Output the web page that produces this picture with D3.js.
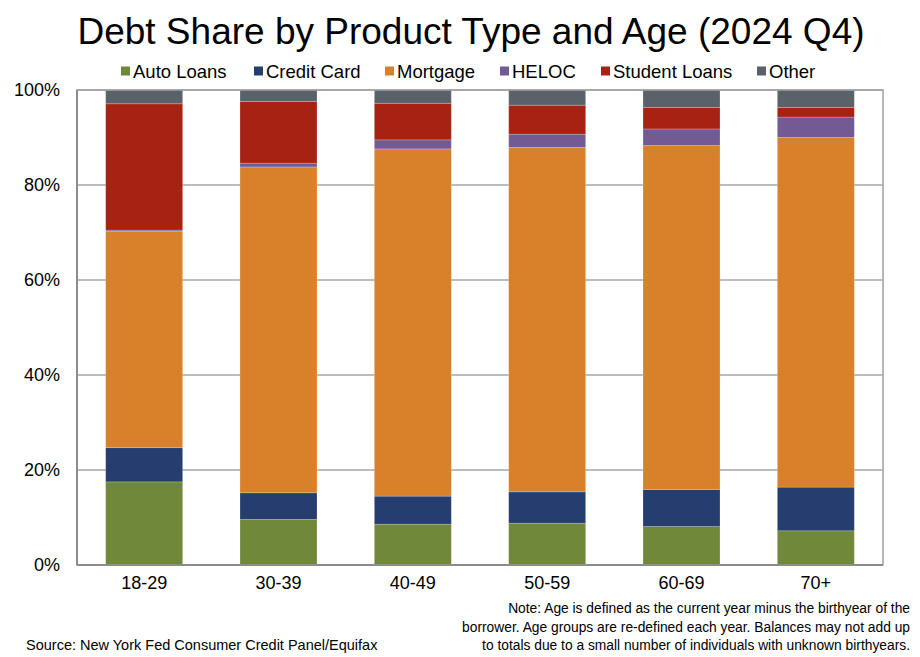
<!DOCTYPE html>
<html><head><meta charset="utf-8">
<script src="https://cdn.jsdelivr.net/npm/d3@7"></script>
<style>body{margin:0;background:#fff}svg{display:block}text{font-family:"Liberation Sans",Arial,sans-serif}</style>
</head><body><svg id="c" width="920" height="657"></svg>
<script>
const categories = ["18-29","30-39","40-49","50-59","60-69","70+"];
const seriesNames = ["Auto Loans","Credit Card","Mortgage","HELOC","Student Loans","Other"];
const autoLoans    = [17.5, 9.6, 8.6, 8.8, 8.1, 7.2];
const creditCard   = [7.2, 5.6, 5.9, 6.6, 7.8, 9.2];
const mortgage     = [45.5, 68.6, 73.1, 72.5, 72.4, 73.6];
const heloc        = [0.3, 0.8, 1.9, 2.8, 3.5, 4.3];
const studentLoans = [26.6, 13.0, 7.7, 6.1, 4.5, 2.0];
const other        = [2.9, 2.4, 2.8, 3.2, 3.7, 3.7];
const colors = ["#6F883A","#263D6F","#D8802A","#735A94","#A62314","#5B6169"];
const yTicks = [0,20,40,60,80,100];

const seriesVals = [autoLoans, creditCard, mortgage, heloc, studentLoans, other];
const rows = categories.map((c,i)=>{const r={cat:c}; seriesNames.forEach((s,j)=>r[s]=seriesVals[j][i]); return r;});

const svg = d3.select("#c");
const L=77, R=883, T=90, B=565;
const x = d3.scaleBand().domain(categories).range([L,R]).paddingInner(0.427).paddingOuter(0.2135);
const y = d3.scaleLinear().domain([0,100]).range([B,T]);

svg.append("text").attr("x",471).attr("y",44).attr("text-anchor","middle")
  .style("font-size","37px").text("Debt Share by Product Type and Age (2024 Q4)");

// gridlines
svg.append("g").selectAll("line").data(yTicks).join("line")
  .attr("x1",L).attr("x2",R).attr("y1",d=>y(d)).attr("y2",d=>y(d))
  .attr("stroke","#a6a6a6").attr("stroke-width",1.5);

const stack = d3.stack().keys(seriesNames)(rows);
svg.append("g").selectAll("g").data(stack).join("g")
  .attr("fill",(d,i)=>colors[i])
  .selectAll("rect").data(d=>d).join("rect")
  .attr("x",d=>x(d.data.cat)).attr("width",x.bandwidth())
  .attr("y",d=>y(d[1])).attr("height",d=>y(d[0])-y(d[1]))
  .attr("stroke","rgba(255,255,255,0.25)").attr("stroke-width",0.8);

// frame
svg.append("rect").attr("x",L).attr("y",T).attr("width",R-L).attr("height",B-T)
  .attr("fill","none").attr("stroke","#a0a0a0").attr("stroke-width",1.5);
svg.append("line").attr("x1",L).attr("x2",R).attr("y1",B).attr("y2",B).attr("stroke","#8c8c8c").attr("stroke-width",2);
svg.append("line").attr("x1",L).attr("x2",L).attr("y1",T).attr("y2",B).attr("stroke","#8c8c8c").attr("stroke-width",2);

// y axis
const ya = svg.append("g").attr("transform",`translate(${L},0)`)
  .call(d3.axisLeft(y).tickValues(yTicks).tickFormat(d=>d+"%").tickSize(0).tickPadding(17));
ya.select(".domain").remove();
ya.selectAll("text").style("font-size","18px").style("font-family","Liberation Sans, Arial").attr("fill","#000");

// x axis
const xa = svg.append("g").attr("transform",`translate(0,${B})`)
  .call(d3.axisBottom(x).tickSize(0).tickPadding(11));
xa.select(".domain").remove();
xa.selectAll("text").style("font-size","18px").style("font-family","Liberation Sans, Arial").attr("fill","#000");

// legend
const legX = [121, 254, 385, 500, 601, 757];
const lg = svg.append("g").selectAll("g").data(seriesNames).join("g")
  .attr("transform",(d,i)=>`translate(${legX[i]},71)`);
lg.append("rect").attr("x",0).attr("y",-4.5).attr("width",9).attr("height",9).attr("fill",(d,i)=>colors[i]);
lg.append("text").attr("x",12).attr("y",6.5).style("font-size","18.5px").text(d=>d);

// notes
const noteLines = ["Note: Age is defined as the current year minus the birthyear of the",
 "borrower. Age groups are re-defined each year. Balances may not add up",
 "to totals due to a small number of individuals with unknown birthyears."];
svg.append("g").selectAll("text").data(noteLines).join("text")
  .attr("x",910).attr("y",(d,i)=>613+i*18.5).attr("text-anchor","end")
  .style("font-size","13.8px").text(d=>d);
svg.append("text").attr("x",26).attr("y",650).style("font-size","14.5px")
  .text("Source: New York Fed Consumer Credit Panel/Equifax");
</script></body></html>
